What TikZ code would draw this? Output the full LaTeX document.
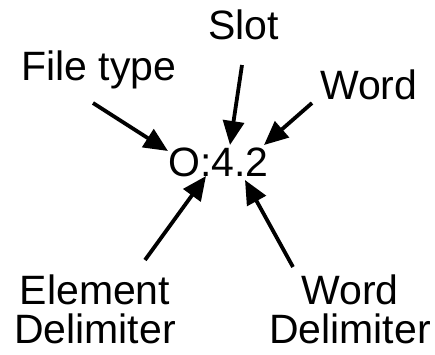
\documentclass[tikz,border=0pt]{standalone}
\usepackage{fontspec}
\setmainfont{Liberation Sans}
\usetikzlibrary{arrows.meta}
\begin{document}
\begin{tikzpicture}[x=1pt,y=-1pt,
  lbl/.style={inner sep=0pt,font=\fontsize{41}{39}\selectfont,text=black},
  arr/.style={line width=3.8pt,-{Triangle[length=24pt,width=21pt]},black}]
\useasboundingbox (0,0) rectangle (435,354);
\node[lbl,anchor=base west] (slot) at (208,39) {Slot};
\node[lbl,anchor=base west] (ftype) at (21,80) {File type};
\node[lbl,anchor=base west] (word) at (320,99) {Word};
\node[lbl,anchor=base west] (addr) at (168,176) {O:4.2};
\node[lbl,anchor=north,align=center,text depth=0pt] (edelim) at (95,275) {Element\\Delimiter};
\node[lbl,anchor=north,align=center,text depth=0pt] (wdelim) at (350,275) {Word\\Delimiter};
\coordinate (fs) at (93,103);  \coordinate (ft) at (168,151);
\coordinate (ss) at (242,65);  \coordinate (st) at (230,145);
\coordinate (ws) at (312,103); \coordinate (wt) at (264,145);
\coordinate (es) at (145,260); \coordinate (et) at (206,176);
\coordinate (ds) at (293,267); \coordinate (dt) at (245,180);
\draw[arr] (fs) -- (ft);
\draw[arr] (ss) -- (st);
\draw[arr] (ws) -- (wt);
\draw[arr] (es) -- (et);
\draw[arr] (ds) -- (dt);
\end{tikzpicture}
\end{document}
